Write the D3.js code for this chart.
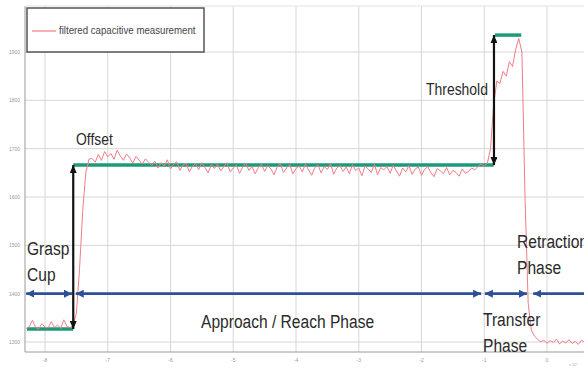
<!DOCTYPE html>
<html>
<head>
<meta charset="utf-8">
<script src="https://cdn.jsdelivr.net/npm/d3@7"></script>
<style>
  body { margin: 0; background: #fff; }
  svg { display: block; }
</style>
</head>
<body>
<div id="chart"></div>
<script>
// x ticks (time) and y ticks (capacitance)
const xTicks = [-8, -7, -6, -5, -4, -3, -2, -1, 0];
const yTicks = [1300, 1400, 1500, 1600, 1700, 1800, 1900];

// filtered capacitive measurement, sampled from tStart every tStep
const tStart = -8.30;
const tStep = 0.05;
const measurement = [
  1328, 1332, 1345, 1330, 1327, 1338, 1331, 1329, 1342, 1330, 1335, 1328, 1346, 1332, 1330,
  1335, 1360, 1450, 1570, 1650, 1678,
  1680, 1672, 1688, 1676, 1694, 1683, 1690, 1678, 1697, 1685, 1676, 1689, 1681, 1670, 1684, 1676, 1668, 1679, 1672, 1665,
  1674, 1660, 1671, 1664, 1677, 1658, 1668, 1673, 1655, 1666, 1670, 1652, 1664, 1669, 1657, 1671, 1661, 1650, 1667, 1659,
  1668, 1654, 1663, 1671, 1652, 1660, 1666, 1649, 1662, 1670, 1655, 1663, 1648, 1661, 1668, 1653, 1665, 1658, 1646, 1662,
  1669, 1651, 1660, 1667, 1648, 1659, 1664, 1652, 1668, 1656, 1645, 1661, 1666, 1650, 1663, 1657, 1669, 1647, 1660, 1665,
  1653, 1662, 1648, 1667, 1655, 1660, 1644, 1664, 1658, 1651, 1668, 1646, 1661, 1656, 1663, 1649, 1666, 1654, 1643, 1660,
  1652, 1665, 1647, 1658, 1662, 1645, 1657, 1663, 1650, 1642, 1659, 1654, 1648, 1661, 1646, 1655, 1651, 1643, 1658, 1649,
  1653, 1660, 1656, 1663, 1668,
  1664, 1670, 1700, 1790, 1840, 1835, 1860, 1850, 1880, 1870, 1905, 1928,
  1900, 1600, 1380, 1325, 1312,
  1306, 1300, 1304, 1297, 1303, 1299, 1306, 1296, 1302, 1298, 1305, 1297, 1301, 1295, 1304, 1299,
  1296, 1303, 1298, 1302, 1295, 1300, 1304
];

// step levels (green) : [from, to, level]
const levels = [
  [-8.30, -7.55, 1327],
  [-7.55, -0.85, 1666],
  [-0.83, -0.41, 1935]
];

// black measurement arrows : [x, from, to]
const offsetArrow = [-7.55, 1327, 1666];
const thresholdArrow = [-0.845, 1666, 1935];

// phase arrows (blue) at level 1400 : [from, to]
const phaseLevel = 1400;
const phases = [
  [-8.30, -7.57],
  [-7.51, -1.05],
  [-0.99, -0.32],
  [-0.22, 0.95]
];

const W = 584, H = 368;
const x = d3.scaleLinear().domain([-8, 0]).range([45, 547]);
const y = d3.scaleLinear().domain([1300, 1900]).range([342, 52]);
const plotLeft = 25, plotTop = 6, plotBottom = 352;
const narrow = 0.82; // condensed look of the original font

const svg = d3.select('#chart').append('svg')
  .attr('width', W)
  .attr('height', H)
  .style('font-family', '"Liberation Sans", Arial, sans-serif');

const defs = svg.append('defs');
function marker(id, color, len, wid) {
  defs.append('marker')
    .attr('id', id)
    .attr('viewBox', `0 0 ${len} ${wid}`)
    .attr('refX', len)
    .attr('refY', wid / 2)
    .attr('markerWidth', len)
    .attr('markerHeight', wid)
    .attr('markerUnits', 'userSpaceOnUse')
    .attr('orient', 'auto-start-reverse')
    .append('path')
    .attr('d', `M0,0L${len},${wid / 2}L0,${wid}Z`)
    .attr('fill', color);
}
marker('headBlack', '#111', 8, 7);
marker('headBlue', '#2d4f98', 8, 8);

// grid
const grid = svg.append('g').attr('stroke', '#d6d6d6').attr('stroke-width', 1);
grid.selectAll('line.h').data(yTicks).join('line')
  .attr('x1', plotLeft).attr('x2', W)
  .attr('y1', d => y(d)).attr('y2', d => y(d));
grid.selectAll('line.v').data(xTicks).join('line')
  .attr('x1', d => x(d)).attr('x2', d => x(d))
  .attr('y1', plotTop).attr('y2', plotBottom);

// axes frame
svg.append('line').attr('x1', plotLeft).attr('x2', plotLeft)
  .attr('y1', plotTop).attr('y2', plotBottom)
  .attr('stroke', '#9a9a9a');
svg.append('line').attr('x1', plotLeft).attr('x2', W)
  .attr('y1', plotBottom).attr('y2', plotBottom)
  .attr('stroke', '#9a9a9a');
svg.append('line').attr('x1', plotLeft).attr('x2', W)
  .attr('y1', plotTop).attr('y2', plotTop)
  .attr('stroke', '#e2e2e2');

// tick labels
svg.append('g').selectAll('text').data(yTicks).join('text')
  .attr('x', 20).attr('y', d => y(d) + 2)
  .attr('text-anchor', 'end')
  .attr('font-size', 5)
  .attr('fill', '#999')
  .text(d => d);
svg.append('g').selectAll('text').data(xTicks).join('text')
  .attr('x', d => x(d)).attr('y', 362)
  .attr('text-anchor', 'middle')
  .attr('font-size', 5)
  .attr('fill', '#999')
  .text(d => d);
svg.append('text').attr('x', 578).attr('y', 366)
  .attr('text-anchor', 'end').attr('font-size', 4).attr('fill', '#aaa')
  .text('x 10\u2074');

// green levels
svg.append('g').selectAll('line').data(levels).join('line')
  .attr('x1', d => Math.max(x(d[0]), plotLeft + 2)).attr('x2', d => x(d[1]))
  .attr('y1', d => y(d[2])).attr('y2', d => y(d[2]))
  .attr('stroke', '#1e9a7a')
  .attr('stroke-width', 3.5);

// red measurement
const line = d3.line()
  .x((d, i) => x(tStart + i * tStep))
  .y(d => y(d));
svg.append('path')
  .datum(measurement)
  .attr('d', line)
  .attr('fill', 'none')
  .attr('stroke', '#f07c86')
  .attr('stroke-width', 1);

// black arrows
svg.append('g').selectAll('line').data([offsetArrow, thresholdArrow]).join('line')
  .attr('x1', d => x(d[0])).attr('x2', d => x(d[0]))
  .attr('y1', d => y(d[1])).attr('y2', d => y(d[2]))
  .attr('stroke', '#111')
  .attr('stroke-width', 2.2)
  .attr('marker-start', 'url(#headBlack)')
  .attr('marker-end', 'url(#headBlack)');

// blue phase arrows
svg.append('g').selectAll('line').data(phases).join('line')
  .attr('x1', d => Math.max(x(d[0]), plotLeft + 1)).attr('x2', d => x(d[1]))
  .attr('y1', y(phaseLevel)).attr('y2', y(phaseLevel))
  .attr('stroke', '#2d4f98')
  .attr('stroke-width', 2.6)
  .attr('marker-start', 'url(#headBlue)')
  .attr('marker-end', 'url(#headBlue)');

// annotations
const notes = [
  { lines: ['Grasp', 'Cup'], x: 27, y: 255, size: 19 },
  { lines: ['Offset'], x: 76, y: 145, size: 17 },
  { lines: ['Threshold'], x: 426, y: 95, size: 17 },
  { lines: ['Approach / Reach Phase'], x: 201, y: 328, size: 19 },
  { lines: ['Transfer', 'Phase'], x: 483, y: 326, size: 19 },
  { lines: ['Retraction', 'Phase'], x: 517, y: 248, size: 19 }
];
notes.forEach(n => {
  const t = svg.append('text')
    .attr('transform', `translate(${n.x},${n.y}) scale(${narrow},1)`)
    .attr('font-size', n.size)
    .attr('fill', '#2a2a2a');
  n.lines.forEach((s, i) => {
    t.append('tspan').attr('x', 0).attr('dy', i === 0 ? 0 : n.size * 1.38).text(s);
  });
});

// legend
const lg = svg.append('g');
lg.append('rect')
  .attr('x', 27).attr('y', 8).attr('width', 177).attr('height', 44)
  .attr('fill', '#fff').attr('stroke', '#555').attr('stroke-width', 1.5);
lg.append('line')
  .attr('x1', 32).attr('x2', 56).attr('y1', 31).attr('y2', 31)
  .attr('stroke', '#f07c86').attr('stroke-width', 1.2);
lg.append('text')
  .attr('transform', `translate(59,34) scale(${narrow},1)`)
  .attr('font-size', 11.8)
  .attr('fill', '#444')
  .text('filtered capacitive measurement');
</script>
</body>
</html>
